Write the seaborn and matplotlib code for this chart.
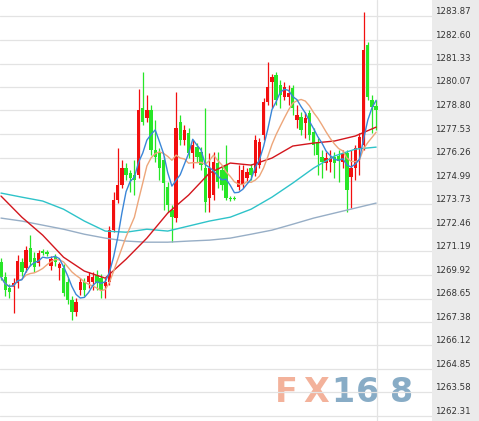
import numpy as np
import pandas as pd
import seaborn as sns
import matplotlib
matplotlib.use('Agg')
import matplotlib.pyplot as plt

# price levels printed on the right panel
tick_values = [1283.87, 1282.60, 1281.33, 1280.07, 1278.80, 1277.53, 1276.26, 1274.99,
               1273.73, 1272.46, 1271.19, 1269.92, 1268.65, 1267.38, 1266.12, 1264.85,
               1263.58, 1262.31]

# candles, oldest first
opens = [1270.61, 1269.80, 1269.21, 1269.26, 1269.48, 1270.61, 1270.29, 1271.37, 1270.83, 1270.56,
         1271.21, 1271.15, 1270.40, 1270.88, 1270.29, 1270.29, 1269.53, 1268.56, 1267.91, 1269.10,
         1269.53, 1269.53, 1269.53, 1269.91, 1269.75, 1269.32, 1269.53, 1272.34, 1273.96, 1274.77,
         1275.69, 1275.42, 1275.31, 1275.31, 1278.93, 1278.39, 1278.82, 1276.66, 1276.50, 1276.12,
         1274.66, 1273.42, 1272.99, 1278.17, 1277.20, 1277.58, 1276.50, 1276.82, 1276.55, 1275.69,
         1274.07, 1274.23, 1275.96, 1275.58, 1275.85, 1274.07, 1274.07, 1274.66, 1274.77, 1275.15,
         1275.69, 1275.42, 1275.85, 1277.47, 1279.25, 1280.33, 1280.71, 1280.17, 1279.52, 1279.52,
         1280.01, 1278.28, 1278.44, 1278.12, 1278.66, 1277.63, 1277.09, 1276.28, 1275.96, 1276.01,
         1276.28, 1276.34, 1276.01, 1276.50, 1275.20, 1275.69, 1276.77, 1276.93, 1282.33, 1279.36,
         1279.04]
highs = [1270.83, 1270.07, 1269.42, 1269.75, 1270.99, 1270.83, 1271.48, 1272.07, 1271.15, 1271.26,
         1271.31, 1271.26, 1270.94, 1271.04, 1270.61, 1270.50, 1269.75, 1268.78, 1268.67, 1269.75,
         1269.75, 1270.07, 1270.07, 1270.18, 1269.96, 1269.75, 1272.56, 1274.39, 1276.77, 1276.12,
         1275.96, 1275.58, 1276.12, 1279.95, 1280.87, 1279.63, 1279.09, 1278.28, 1276.77, 1276.34,
         1274.93, 1273.69, 1279.79, 1278.55, 1278.01, 1277.85, 1277.20, 1277.04, 1276.82, 1278.93,
         1276.50, 1276.55, 1276.55, 1275.85, 1276.93, 1274.18, 1274.18, 1275.85, 1275.85, 1275.69,
         1275.90, 1277.47, 1277.31, 1279.47, 1281.41, 1280.76, 1280.87, 1280.44, 1280.33, 1280.17,
         1280.17, 1279.09, 1278.71, 1278.71, 1278.82, 1277.85, 1277.31, 1276.66, 1276.55, 1276.66,
         1276.55, 1276.66, 1276.66, 1276.66, 1276.66, 1276.93, 1277.58, 1284.11, 1282.49, 1279.63,
         1279.36]
lows = [1269.64, 1268.78, 1268.67, 1267.86, 1269.21, 1269.86, 1270.07, 1270.40, 1270.07, 1270.40,
        1270.99, 1270.94, 1270.18, 1270.40, 1269.64, 1268.78, 1268.34, 1267.48, 1267.70, 1268.83,
        1268.78, 1269.21, 1269.10, 1269.10, 1268.67, 1268.67, 1269.37, 1272.23, 1273.80, 1274.61,
        1275.04, 1274.39, 1274.23, 1275.15, 1278.01, 1278.17, 1276.39, 1276.01, 1275.04, 1273.42,
        1273.31, 1271.69, 1272.77, 1276.93, 1276.93, 1276.23, 1275.69, 1276.01, 1275.58, 1273.31,
        1273.31, 1273.96, 1274.61, 1274.50, 1273.96, 1273.91, 1273.96, 1274.50, 1274.61, 1274.93,
        1275.04, 1275.26, 1275.69, 1277.20, 1279.09, 1278.93, 1279.09, 1278.93, 1279.36, 1279.09,
        1278.55, 1277.85, 1277.47, 1277.31, 1277.20, 1276.39, 1275.31, 1275.15, 1275.58, 1275.47,
        1275.15, 1274.93, 1275.69, 1273.31, 1273.53, 1275.04, 1275.31, 1276.66, 1279.36, 1277.58,
        1277.74]
closes = [1269.80, 1269.10, 1268.99, 1269.48, 1270.67, 1270.07, 1271.26, 1270.61, 1270.34, 1271.10,
          1271.10, 1271.04, 1270.77, 1270.61, 1270.50, 1268.94, 1268.56, 1267.91, 1268.45, 1269.53,
          1269.10, 1269.86, 1269.80, 1269.48, 1269.10, 1269.53, 1272.34, 1273.96, 1274.77, 1275.69,
          1275.31, 1275.15, 1275.04, 1278.82, 1278.17, 1278.82, 1276.66, 1276.28, 1275.69, 1274.88,
          1273.69, 1273.04, 1277.85, 1277.20, 1277.74, 1276.50, 1276.93, 1276.28, 1275.85, 1273.85,
          1275.69, 1276.01, 1274.93, 1274.77, 1274.07, 1274.01, 1274.01, 1275.04, 1275.58, 1275.47,
          1275.31, 1277.20, 1277.09, 1279.25, 1280.06, 1280.60, 1279.36, 1279.63, 1280.06, 1279.74,
          1278.93, 1278.55, 1277.74, 1278.39, 1277.47, 1276.93, 1276.39, 1276.01, 1276.23, 1276.23,
          1275.96, 1276.07, 1276.50, 1274.50, 1275.69, 1276.77, 1277.36, 1282.06, 1279.52, 1278.98,
          1278.82]

# slower averages every 5 bars
ma_index = list(range(0, 91, 5))
ma_red = [1274.18, 1273.04, 1272.07, 1270.88, 1270.13, 1269.75, 1270.77, 1271.91, 1273.26, 1274.23,
          1275.42, 1275.96, 1275.85, 1276.23, 1276.88, 1277.04, 1277.15, 1277.42, 1277.90]
ma_cyan = [1274.34, 1274.12, 1273.91, 1273.47, 1272.83, 1272.29, 1272.23, 1272.39, 1272.29, 1272.56,
           1272.83, 1273.04, 1273.47, 1274.12, 1274.88, 1275.69, 1276.34, 1276.71, 1276.82]
ma_gray = [1272.99, 1272.83, 1272.61, 1272.39, 1272.12, 1271.91, 1271.75, 1271.69, 1271.69, 1271.75,
           1271.80, 1271.91, 1272.12, 1272.34, 1272.66, 1272.99, 1273.26, 1273.53, 1273.80]

df = pd.DataFrame({'open': opens, 'high': highs, 'low': lows, 'close': closes})
df['idx'] = np.arange(len(df))
df['ma5'] = df['close'].rolling(5, min_periods=1).mean()
df['ma10'] = df['close'].rolling(10, min_periods=1).mean()
slow = pd.DataFrame({'idx': ma_index, 'red': ma_red, 'cyan': ma_cyan, 'gray': ma_gray})

sns.set_style('white')
plt.rcParams['font.family'] = ['DejaVu Sans']

W, H = 479, 421
fig = plt.figure(figsize=(W / 100, H / 100), dpi=100)
ax = fig.add_axes([0, 0, 432 / W, 1])
panel = fig.add_axes([432 / W, 0, 1 - 432 / W, 1], sharey=ax)

ymin, ymax = 1262.04, 1284.76
ax.set_xlim(-0.24, 103.4)
ax.set_ylim(ymin, ymax)
for a in (ax, panel):
    for s in a.spines.values():
        s.set_visible(False)
    a.tick_params(left=False, bottom=False, labelleft=False, labelbottom=False)

# grid
for v in tick_values:
    ax.axhline(v, color='#e3e3e3', lw=0.9, zorder=1)
ax.axvline(90.1, color='#e3e3e3', lw=0.9, zorder=1)

# watermark, one glyph at a time so the spacing matches
wm = [('F', 286, '#f3b29b'), ('X', 316, '#f3b29b'), ('1', 343, '#88acc6'),
      ('6', 368, '#88acc6'), ('8', 402, '#88acc6')]
for ch, px, col in wm:
    ax.text(px / W, 1 - 392 / H, ch, transform=fig.transFigure, ha='center', va='center',
            fontsize=24, fontweight='bold', color=col, zorder=0.8)

# candles
up = df['close'] >= df['open']
colors = np.where(up, '#f20f0f', '#27e627')
body_low = df[['open', 'close']].min(axis=1)
body_h = (df['close'] - df['open']).abs().clip(lower=0.06)
ax.vlines(df['idx'], df['low'], df['high'], colors=colors, lw=0.9, zorder=2)
ax.bar(df['idx'], body_h, bottom=body_low, width=0.8, color=colors, lw=0, zorder=3)

# moving averages
sns.lineplot(data=slow, x='idx', y='gray', ax=ax, color='#97aec6', lw=1.0, zorder=4)
sns.lineplot(data=slow, x='idx', y='cyan', ax=ax, color='#2ec3c9', lw=1.0, zorder=4)
sns.lineplot(data=slow, x='idx', y='red', ax=ax, color='#d3161d', lw=1.0, zorder=4)
sns.lineplot(data=df, x='idx', y='ma10', ax=ax, color='#eda67a', lw=1.0, zorder=5)
sns.lineplot(data=df, x='idx', y='ma5', ax=ax, color='#3a86d8', lw=1.0, zorder=6)
ax.set_xlabel('')
ax.set_ylabel('')

# right price panel
panel.set_facecolor('#ebebeb')
panel.set_xlim(0, 1)
panel.set_xlabel('')
panel.set_ylabel('')
for v in tick_values:
    panel.text(0.07, v + 0.13, f'{v:.2f}', ha='left', va='baseline', fontsize=6.2, color='#333333')

fig.savefig('out.png', dpi=100)
